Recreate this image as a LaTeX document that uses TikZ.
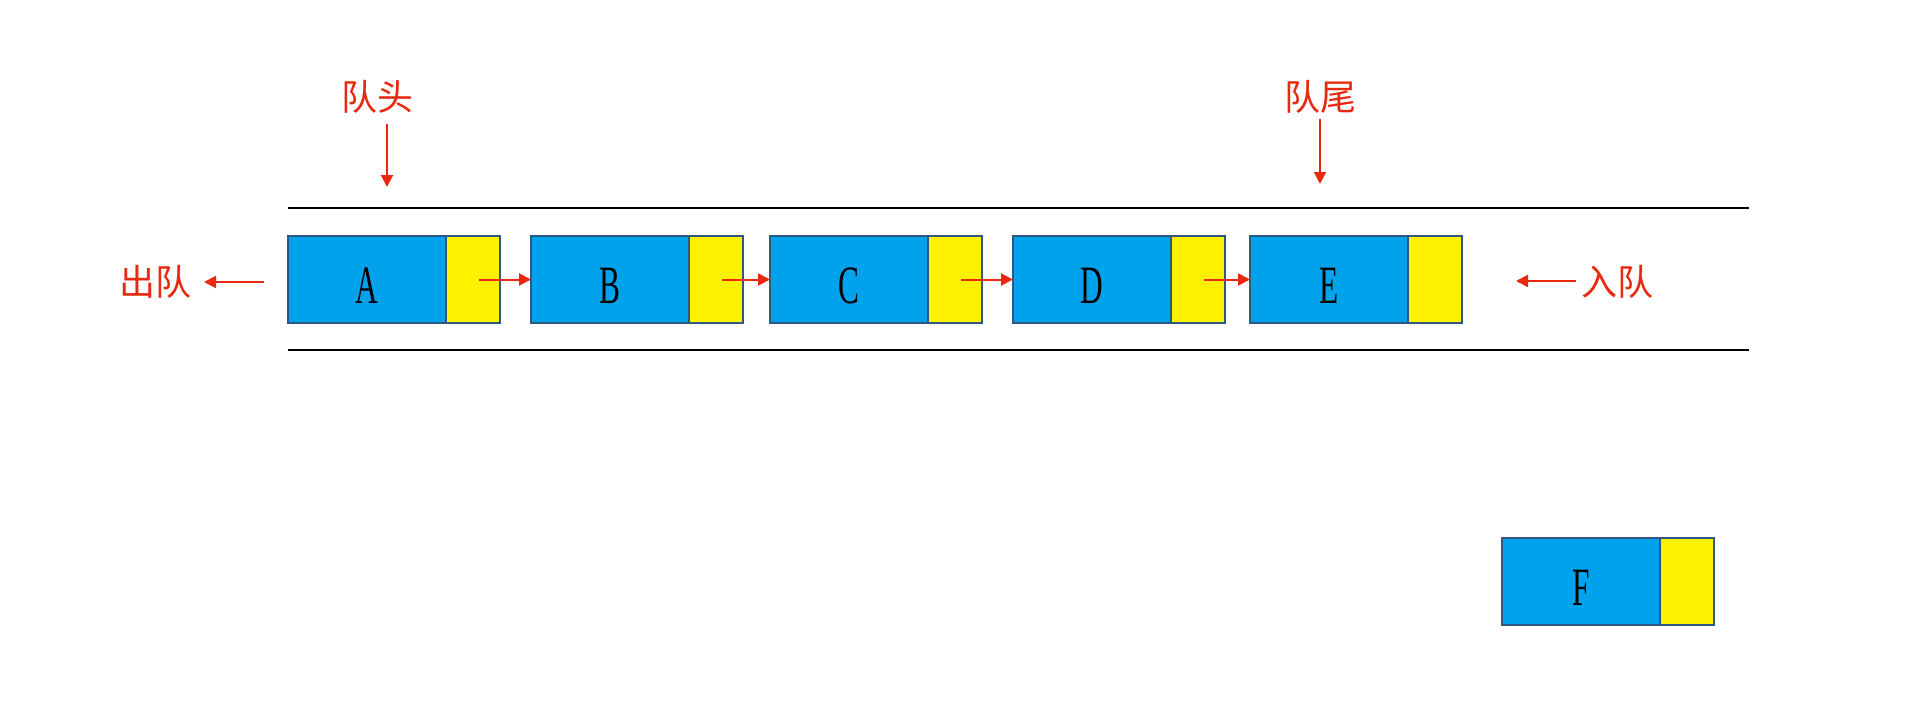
\documentclass[tikz,border=0pt]{standalone}
\usepackage{graphicx}
\usepackage{fontspec}
\setmainfont{Liberation Serif}
\newfontfamily\cjk{Noto Sans CJK SC}
\usetikzlibrary{arrows.meta}
\definecolor{qblue}{HTML}{00A2EC}
\definecolor{qyellow}{HTML}{FFF200}
\definecolor{qborder}{HTML}{2F5880}
\definecolor{qred}{HTML}{E8290F}
\tikzset{
  datab/.style={draw=qborder, line width=2pt, fill=qblue, minimum width=158pt,
    minimum height=87pt, inner sep=0pt, outer sep=0pt, anchor=north west},
  nextb/.style={draw=qborder, line width=2pt, fill=qyellow, minimum width=54pt,
    minimum height=87pt, inner sep=0pt, outer sep=0pt, anchor=north west},
  letter/.style={inner sep=0pt, font=\fontsize{54}{54}\selectfont},
  lbl/.style={text=qred, font=\cjk\fontsize{36}{36}\selectfont, inner sep=0pt},
  rarrow/.style={draw=qred, line width=2pt, -{Triangle[length=12pt,width=12pt]}},
  rail/.style={draw=black, line width=2.5pt},
}
\newcommand{\lt}[1]{\scalebox{0.58}[1]{#1}}
\begin{document}
\begin{tikzpicture}[x=1pt,y=-1pt]
\useasboundingbox (0,0) rectangle (1920,712);
\fill[white] (0,0) rectangle (1920,712);

% rails
\coordinate (r1a) at (288,208);
\coordinate (r1b) at (1749,208);
\coordinate (r2a) at (288,350);
\coordinate (r2b) at (1749,350);
\draw[rail] (r1a) -- (r1b);
\draw[rail] (r2a) -- (r2b);

% queue elements
\foreach \n/\x/\y in {A/288/236, B/531/236, C/770/236, D/1013/236, E/1250/236, F/1502/538}{
  \node[datab] (\n) at (\x,\y) {};
  \node[nextb] (\n y) at (\n.north east) {};
  \node[letter] (\n l) at ([yshift=-6pt]\n.center) {\lt{\n}};
}

% links
\foreach \a/\b in {A/B, B/C, C/D, D/E}{
  \draw[rarrow] ([xshift=-21pt]\a y.east) -- (\b.west);
}

% labels
\node[lbl] (head) at (377,97) {队头};
\node[lbl] (tail) at (1320,97) {队尾};
\node[lbl] (deq) at (155,282) {出队};
\node[lbl] (enq) at (1617,282) {入队};

\coordinate (headS) at (387,124);
\coordinate (headT) at (387,187);
\coordinate (tailS) at (1320,119);
\coordinate (tailT) at (1320,184);
\coordinate (deqS) at (264,282);
\coordinate (deqT) at (204,282);
\coordinate (enqS) at (1576,281);
\coordinate (enqT) at (1516,281);
\draw[rarrow] (headS) -- (headT);
\draw[rarrow] (tailS) -- (tailT);
\draw[rarrow] (deqS) -- (deqT);
\draw[rarrow] (enqS) -- (enqT);
\end{tikzpicture}
\end{document}
